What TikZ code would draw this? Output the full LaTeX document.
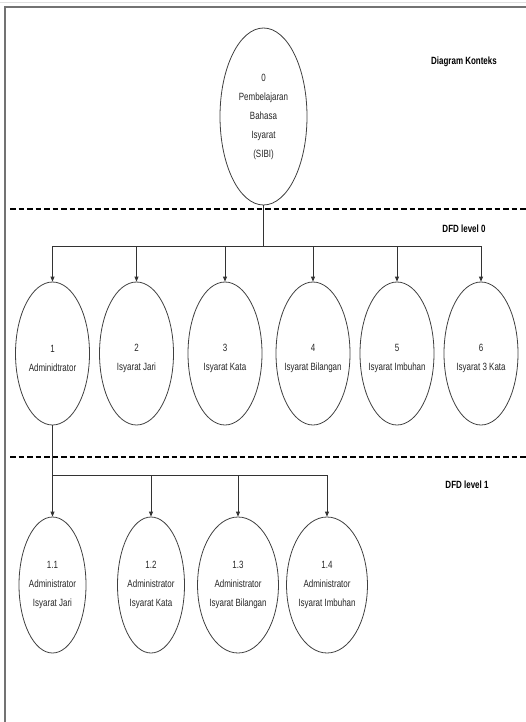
\documentclass[tikz,border=0pt]{standalone}
\usepackage{fontspec}
\newfontfamily\narrow[FakeStretch=0.76]{Liberation Sans}
\usetikzlibrary{shapes.geometric,arrows.meta}
\tikzset{
  proc/.style={ellipse, draw=black!75, line width=0.8pt, inner sep=0pt, align=center,
    font=\narrow\fontsize{10.5}{19}\selectfont, text=black!85},
  big/.style={proc, minimum width=87pt, minimum height=177pt},
  lvl0/.style={proc, minimum width=74pt, minimum height=143pt},
  lvl1/.style={proc, minimum width=67pt, minimum height=136pt},
  ptext/.style={align=center, inner sep=0pt, font=\narrow\fontsize{10.5}{19}\selectfont, text=black!85, yshift=-4.5pt},
  conn/.style={draw=black!80, line width=0.8pt},
  arr/.style={conn, -{Triangle[length=5pt,width=4pt]}},
  dashline/.style={draw=black, line width=1.4pt, dash pattern=on 5.5pt off 3pt},
  lbl/.style={font=\narrow\bfseries\fontsize{10.5}{12}\selectfont, text=black},
  frame/.style={draw=black!55, line width=1.6pt}
}
\begin{document}
\begin{tikzpicture}[x=1pt,y=-1pt]
\useasboundingbox (0,0) rectangle (526,722);
% frame
\draw[draw=black!12, line width=0.8pt] (0,2) -- (526,2);
\draw[frame] (5,722) -- (5,7) -- (526,7);
% dashed separators
\coordinate (d0a) at (10,209); \coordinate (d0b) at (526,209);
\coordinate (d1a) at (10,457); \coordinate (d1b) at (526,457);
\draw[dashline] (d0a) -- (d0b);
\draw[dashline] (d1a) -- (d1b);
% labels
\node[lbl] (t0) at (464,62) {Diagram Konteks};
\node[lbl] (t1) at (464,229) {DFD level 0};
\node[lbl] (t2) at (467,485) {DFD level 1};
% context
\node[big] (c0) at (263.5,116.5) {0\\Pembelajaran\\Bahasa\\Isyarat\\(SIBI)};
% level 0
\node[lvl0, label={[ptext]center:1\\Adminidtrator}] (p1) at (52.5,353.5) {};
\node[lvl0, label={[ptext]center:2\\Isyarat Jari}] (p2) at (136.5,353.5) {};
\node[lvl0, label={[ptext]center:3\\Isyarat Kata}] (p3) at (225,353.5) {};
\node[lvl0, label={[ptext]center:4\\Isyarat Bilangan}] (p4) at (313,353.5) {};
\node[lvl0, label={[ptext]center:5\\Isyarat Imbuhan}] (p5) at (397,353.5) {};
\node[lvl0, label={[ptext]center:6\\Isyarat 3 Kata}] (p6) at (481,353.5) {};
% level 1
\node[lvl1] (q1) at (52.5,585) {1.1\\Administrator\\Isyarat Jari};
\node[lvl1] (q2) at (151,585) {1.2\\Administrator\\Isyarat Kata};
\node[lvl1] (q3) at (238,585) {1.3\\Administrator\\Isyarat Bilangan};
\node[lvl1] (q4) at (327,585) {1.4\\Administrator\\Isyarat Imbuhan};
% connectors level 0
\coordinate (j0) at (263.5,246);
\draw[conn] (c0.south) -- (j0);
\foreach \n in {p1,p2,p3,p4,p5,p6} \draw[arr] (j0) -| (\n.north);
% connectors level 1
\coordinate (j1) at (52.5,475);
\draw[conn] (p1.south) -- (j1);
\foreach \n in {q1,q2,q3,q4} \draw[arr] (j1) -| (\n.north);
\end{tikzpicture}
\end{document}
